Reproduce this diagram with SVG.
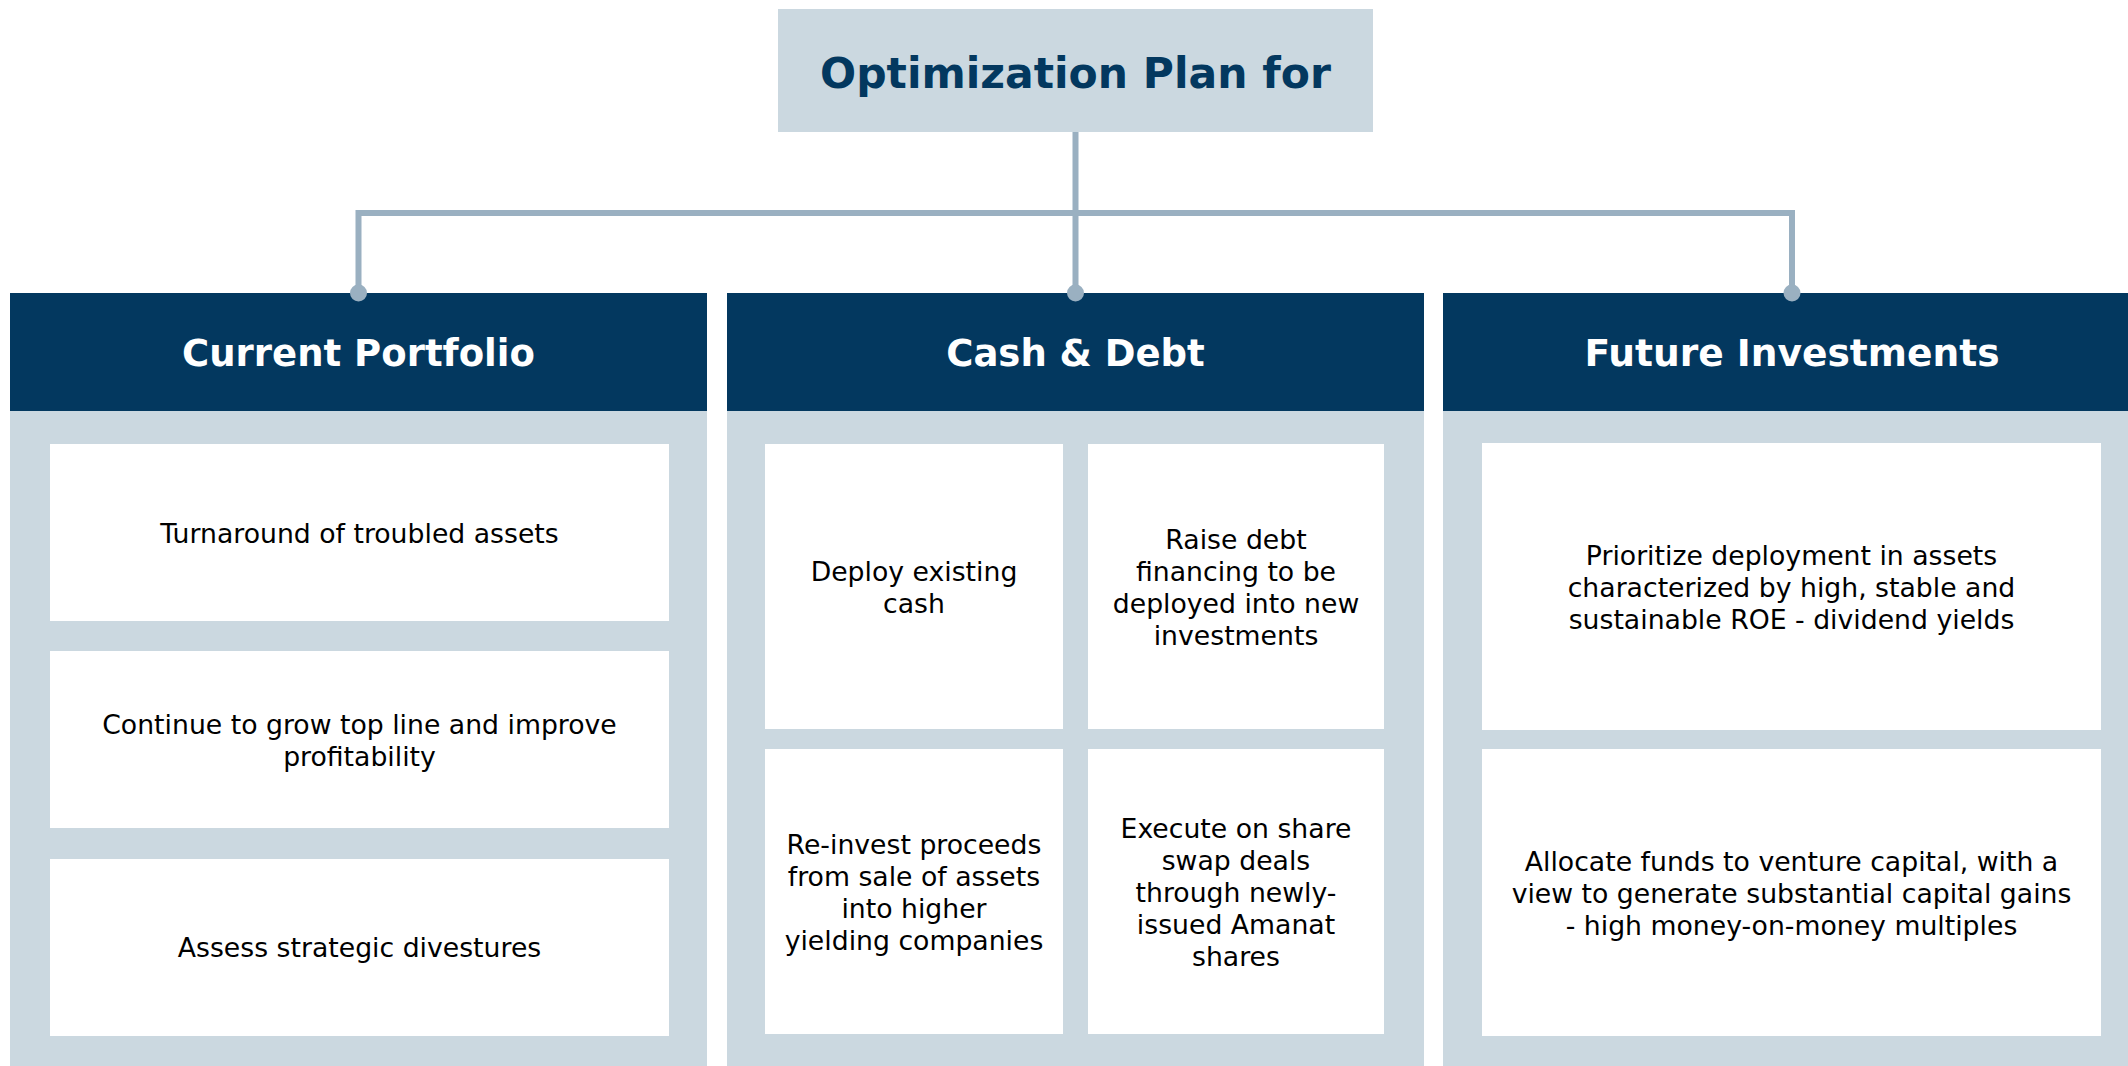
<svg xmlns="http://www.w3.org/2000/svg" width="2128" height="1066" viewBox="0 0 2128 1066">
  <style>
    .panel { fill: #CBD8E0; }
    .head { fill: #03385F; }
    .card { fill: #FFFFFF; }
    .title { font-family: "DejaVu Sans", Verdana, sans-serif; font-weight: bold; font-size: 42.5px; fill: #03385F; text-anchor: middle; }
    .htext { font-family: "DejaVu Sans", Verdana, sans-serif; font-weight: bold; font-size: 37px; fill: #FFFFFF; text-anchor: middle; }
    .body { font-family: "DejaVu Sans", Verdana, sans-serif; font-size: 26.7px; fill: #000000; text-anchor: middle; }
    .link { fill: none; stroke: #9AB0C1; stroke-width: 6; }
    .dot { fill: #9AB0C1; }
  </style>

  <rect width="2128" height="1066" fill="#FFFFFF"/>

  <!-- top title -->
  <g id="title">
    <rect class="panel" x="778" y="9" width="595" height="123"/>
    <text class="title" x="1075.5" y="88">Optimization Plan for</text>
  </g>

  <!-- column: current portfolio -->
  <g id="current-portfolio">
    <rect class="panel" x="10" y="411" width="697" height="655"/>
    <rect class="head" x="10" y="293" width="697" height="118"/>
    <text class="htext" x="358.5" y="366">Current Portfolio</text>
  </g>
  <g id="cp-turnaround">
    <rect class="card" x="50" y="444" width="619" height="177"/>
    <text class="body" x="359.5" y="543">Turnaround of troubled assets</text>
  </g>
  <g id="cp-grow">
    <rect class="card" x="50" y="651" width="619" height="177"/>
    <text class="body" x="359.5" y="734">Continue to grow top line and improve</text>
    <text class="body" x="359.5" y="766">profitability</text>
  </g>
  <g id="cp-divest">
    <rect class="card" x="50" y="859" width="619" height="177"/>
    <text class="body" x="359.5" y="957">Assess strategic divestures</text>
  </g>

  <!-- column: cash & debt -->
  <g id="cash-debt">
    <rect class="panel" x="727" y="411" width="697" height="655"/>
    <rect class="head" x="727" y="293" width="697" height="118"/>
    <text class="htext" x="1075.5" y="366">Cash &amp; Debt</text>
  </g>
  <g id="cd-deploy">
    <rect class="card" x="765" y="444" width="298" height="285"/>
    <text class="body" x="914" y="580.5">Deploy existing</text>
    <text class="body" x="914" y="612.5">cash</text>
  </g>
  <g id="cd-raise">
    <rect class="card" x="1088" y="444" width="296" height="285"/>
    <text class="body" x="1236" y="548.5">Raise debt</text>
    <text class="body" x="1236" y="580.5">financing to be</text>
    <text class="body" x="1236" y="612.5">deployed into new</text>
    <text class="body" x="1236" y="644.5">investments</text>
  </g>
  <g id="cd-reinvest">
    <rect class="card" x="765" y="749" width="298" height="285"/>
    <text class="body" x="914" y="853.5">Re-invest proceeds</text>
    <text class="body" x="914" y="885.5">from sale of assets</text>
    <text class="body" x="914" y="917.5">into higher</text>
    <text class="body" x="914" y="949.5">yielding companies</text>
  </g>
  <g id="cd-swap">
    <rect class="card" x="1088" y="749" width="296" height="285"/>
    <text class="body" x="1236" y="837.5">Execute on share</text>
    <text class="body" x="1236" y="869.5">swap deals</text>
    <text class="body" x="1236" y="901.5">through newly-</text>
    <text class="body" x="1236" y="933.5">issued Amanat</text>
    <text class="body" x="1236" y="965.5">shares</text>
  </g>

  <!-- column: future investments -->
  <g id="future-investments">
    <rect class="panel" x="1443" y="411" width="697" height="655"/>
    <rect class="head" x="1443" y="293" width="697" height="118"/>
    <text class="htext" x="1792" y="366" style="font-size:37.6px">Future Investments</text>
  </g>
  <g id="fi-prioritize">
    <rect class="card" x="1482" y="443" width="619" height="287"/>
    <text class="body" x="1791.5" y="564.5">Prioritize deployment in assets</text>
    <text class="body" x="1791.5" y="596.5">characterized by high, stable and</text>
    <text class="body" x="1791.5" y="628.5">sustainable ROE - dividend yields</text>
  </g>
  <g id="fi-venture">
    <rect class="card" x="1482" y="749" width="619" height="287"/>
    <text class="body" x="1791.5" y="870.5">Allocate funds to venture capital, with a</text>
    <text class="body" x="1791.5" y="902.5">view to generate substantial capital gains</text>
    <text class="body" x="1791.5" y="934.5">- high money-on-money multiples</text>
  </g>

  <!-- tree connectors -->
  <g id="connectors">
    <path class="link" d="M1075.5 132 V293"/>
    <path class="link" d="M358.5 293 V213 H1792 V293"/>
    <circle class="dot" cx="358.5" cy="293" r="8.5"/>
    <circle class="dot" cx="1075.5" cy="293" r="8.5"/>
    <circle class="dot" cx="1792" cy="293" r="8.5"/>
  </g>
</svg>
